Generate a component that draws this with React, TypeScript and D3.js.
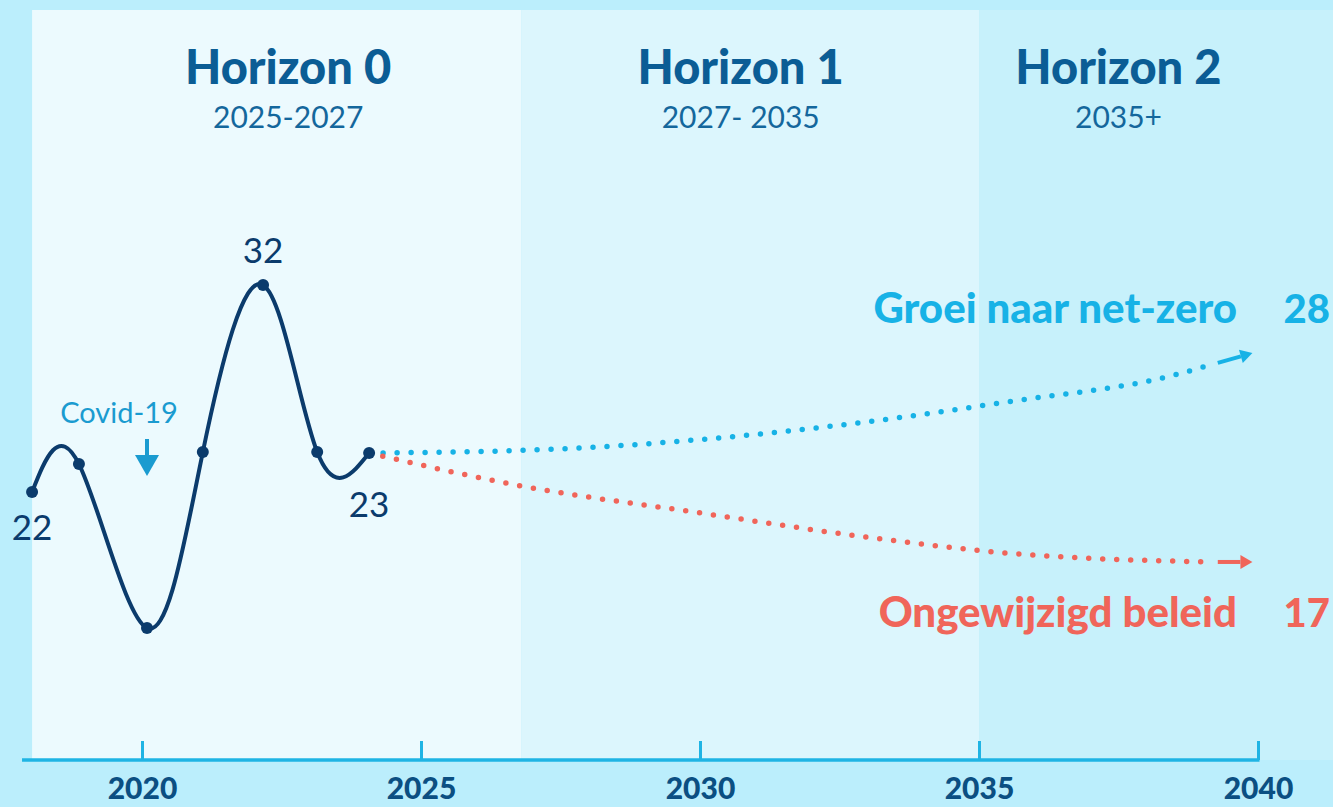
import * as d3 from 'd3';
import { useEffect, useRef } from 'react';

// historic series (year, value)
const histYears = [2018.03, 2018.87, 2020.09, 2021.09, 2022.17, 2023.14, 2024.07];
const histValues = [22, 23.35, 15.43, 23.93, 32, 23.93, 23.88];

// scenarios
const growthYears = [2024.07, 2027.5, 2029.9, 2032.7, 2035.5, 2038.5, 2039.1, 2039.9];
const growthValues = [23.88, 24.08, 24.51, 25.29, 26.35, 27.65, 28.1, 28.71];
const policyYears = [2024.07, 2026.9, 2029.9, 2033.1, 2035.5, 2039.1, 2039.9];
const policyValues = [23.88, 22.24, 21.03, 19.78, 19.05, 18.62, 18.62];

const horizons = ['Horizon 0', 'Horizon 1', 'Horizon 2'];
const horizonRanges = ['2025-2027', '2027- 2035', '2035+'];
const horizonStart = [2018.03, 2026.8, 2035];
const horizonEnd = [2026.8, 2035, 2041.4];

const tickYears = [2020, 2025, 2030, 2035, 2040];
const pointLabels = [
  { i: 0, text: '22' },
  { i: 4, text: '32' },
  { i: 6, text: '23' },
];

const FONT = 'Lato, "Open Sans", sans-serif';

export default function App() {
  const svgRef = useRef<SVGSVGElement>(null);

  useEffect(() => {
    if (!svgRef.current) return;
    const W = 1333;
    const H = 807;
    const axisY = 760;

    const svg = d3.select(svgRef.current);
    svg.selectAll('*').remove();
    svg.attr('width', W).attr('height', H);

    const x = d3.scaleLinear().domain([2020, 2040]).range([142, 1258]);
    const y = d3.scaleLinear().domain([22, 32]).range([492, 285]);

    // background + horizon panels
    svg.append('rect').attr('width', W).attr('height', H).attr('fill', '#bbeefc');
    const panelColors = ['#ecfafe', '#dcf6fd', '#c7f1fb'];
    svg
      .selectAll('rect.panel')
      .data(horizons)
      .join('rect')
      .attr('class', 'panel')
      .attr('x', (_, i) => x(horizonStart[i]))
      .attr('width', (_, i) => x(horizonEnd[i]) - x(horizonStart[i]))
      .attr('y', 10)
      .attr('height', axisY - 10)
      .attr('fill', (_, i) => panelColors[i]);

    // headings
    const headX = [2022.62, 2030.73, 2037.5];
    svg
      .selectAll('text.head')
      .data(horizons)
      .join('text')
      .attr('class', 'head')
      .attr('x', (_, i) => x(headX[i]))
      .attr('y', 84)
      .attr('text-anchor', 'middle')
      .style('font-family', FONT)
      .style('font-weight', 900)
      .style('font-size', '47px')
      .style('fill', '#0b5d95')
      .text((d) => d);
    svg
      .selectAll('text.sub')
      .data(horizonRanges)
      .join('text')
      .attr('class', 'sub')
      .attr('x', (_, i) => x(headX[i]))
      .attr('y', 128)
      .attr('text-anchor', 'middle')
      .style('font-family', FONT)
      .style('font-size', '30px')
      .style('fill', '#14679c')
      .text((d) => d);

    // axis
    const axis = svg.append('g').attr('transform', `translate(0,${axisY})`);
    axis
      .call(d3.axisBottom(x).tickValues(tickYears).tickFormat(d3.format('d')).tickSizeInner(-19).tickSizeOuter(0).tickPadding(18))
      .select('.domain')
      .remove();
    axis
      .append('line')
      .attr('x1', x(2017.85))
      .attr('x2', x(2040) + 1.5)
      .attr('stroke', '#1fb4e4')
      .attr('stroke-width', 3.5);
    axis.selectAll('.tick line').attr('stroke', '#1fb4e4').attr('stroke-width', 3);
    axis
      .selectAll('.tick text')
      .style('font-family', FONT)
      .style('font-weight', 900)
      .style('font-size', '30px')
      .style('fill', '#0b4f82');

    // scenario dotted lines
    const scen = [
      { years: growthYears, values: growthValues, color: '#17b2e6' },
      { years: policyYears, values: policyValues, color: '#f0655a' },
    ];
    const line = d3
      .line<[number, number]>()
      .x((d) => x(d[0]))
      .y((d) => y(d[1]))
      .curve(d3.curveMonotoneX);
    scen.forEach((s) => {
      const pts = s.years.map((yr, i) => [yr, s.values[i]] as [number, number]);
      const body = pts.slice(0, -1);
      svg
        .append('path')
        .attr('d', line(body))
        .attr('fill', 'none')
        .attr('stroke', s.color)
        .attr('stroke-width', 5.5)
        .attr('stroke-linecap', 'round')
        .attr('stroke-dasharray', '0 14');
      // arrow
      const a = body[body.length - 1];
      const b = pts[pts.length - 1];
      const x0 = x(a[0]) + 10;
      const x1 = x(b[0]);
      const y1 = y(b[1]);
      const ang = Math.atan2(y1 - y(a[1]), x1 - x(a[0]));
      const y0 = y1 - Math.tan(ang) * (x1 - x0);
      const hl = 12;
      const hw = 7;
      const bx = x1 - hl * Math.cos(ang);
      const by = y1 - hl * Math.sin(ang);
      svg
        .append('line')
        .attr('x1', x0)
        .attr('y1', y0)
        .attr('x2', bx)
        .attr('y2', by)
        .attr('stroke', s.color)
        .attr('stroke-width', 4);
      svg
        .append('path')
        .attr(
          'd',
          `M${x1},${y1}L${bx - hw * Math.sin(ang)},${by + hw * Math.cos(ang)}L${bx + hw * Math.sin(ang)},${by - hw * Math.cos(ang)}Z`
        )
        .attr('fill', s.color);
    });

    // historic line
    const hist = histYears.map((yr, i) => [yr, histValues[i]] as [number, number]);
    svg
      .append('path')
      .attr('d', line.curve(d3.curveNatural)(hist))
      .attr('fill', 'none')
      .attr('stroke', '#0b3b6c')
      .attr('stroke-width', 4);
    svg
      .selectAll('circle.pt')
      .data(hist)
      .join('circle')
      .attr('class', 'pt')
      .attr('cx', (d) => x(d[0]))
      .attr('cy', (d) => y(d[1]))
      .attr('r', 6)
      .attr('fill', '#0b3b6c');

    const labelDy = [48, -22, 64];
    svg
      .selectAll('text.pl')
      .data(pointLabels)
      .join('text')
      .attr('class', 'pl')
      .attr('x', (d) => x(hist[d.i][0]))
      .attr('y', (d, k) => y(hist[d.i][1]) + labelDy[k])
      .attr('text-anchor', 'middle')
      .style('font-family', FONT)
      .style('font-size', '35px')
      .style('fill', '#0b3b6c')
      .text((d) => d.text);

    // Covid annotation
    const cx = x(histYears[2]);
    svg
      .append('text')
      .attr('x', cx - 28)
      .attr('y', 423)
      .attr('text-anchor', 'middle')
      .style('font-family', FONT)
      .style('font-size', '29px')
      .style('fill', '#1a9bd0')
      .text('Covid-19');
    svg
      .append('line')
      .attr('x1', cx)
      .attr('x2', cx)
      .attr('y1', 439)
      .attr('y2', 458)
      .attr('stroke', '#1a9bd0')
      .attr('stroke-width', 4);
    svg
      .append('path')
      .attr('d', `M${cx - 12},${455}L${cx + 12},${455}L${cx},${476}Z`)
      .attr('fill', '#1a9bd0');

    // scenario labels
    const sLabels = [
      { name: 'Groei naar net-zero', value: '28', y: 323, color: '#17b2e6' },
      { name: 'Ongewijzigd beleid', value: '17', y: 627, color: '#f0655a' },
    ];
    sLabels.forEach((l) => {
      svg
        .append('text')
        .attr('x', 1237)
        .attr('y', l.y)
        .attr('text-anchor', 'end')
        .style('font-family', FONT)
        .style('font-weight', 900)
        .style('font-size', '42px')
        .style('fill', l.color)
        .text(l.name);
      svg
        .append('text')
        .attr('x', 1330)
        .attr('y', l.y)
        .attr('text-anchor', 'end')
        .style('font-family', FONT)
        .style('font-weight', 900)
        .style('font-size', '40px')
        .style('fill', l.color)
        .text(l.value);
    });
  }, []);

  return <svg ref={svgRef} style={{ position: 'absolute', left: 0, top: 0 }} />;
}
